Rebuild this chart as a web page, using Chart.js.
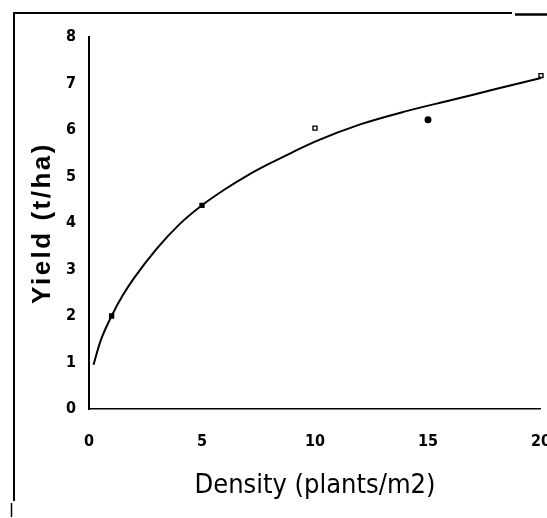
<!DOCTYPE html>
<html>
<head>
<meta charset="utf-8">
<script src="https://cdn.jsdelivr.net/npm/chart.js@4/dist/chart.umd.min.js"></script>
<style>
html,body{margin:0;padding:0;background:#fff;overflow:hidden;}
canvas{display:block;}
</style>
</head>
<body>
<canvas id="c" width="574" height="518"></canvas>
<script>
// Observed data points
const densityObs = [1, 5, 10, 15, 20];
const yieldObs = [2.0, 4.38, 6.04, 6.22, 7.17];
const obsStyles = ['rect', 'rect', 'rect', 'circle', 'rect'];
const obsFill = ['#000', '#000', '#fff', '#000', '#fff'];

// Fitted curve
const densityFit = [0.2, 0.5, 1, 1.5, 2, 3, 4, 5, 6, 7, 8, 9, 10, 12, 14, 16, 18, 20];
const yieldFit = [0.95, 1.45, 2.0, 2.45, 2.82, 3.45, 3.97, 4.38, 4.72, 5.02, 5.28, 5.52, 5.75, 6.12, 6.4, 6.64, 6.88, 7.12];

const xTicks = [0, 5, 10, 15, 20];
const yTicks = [0, 1, 2, 3, 4, 5, 6, 7, 8];
const xTitle = 'Density (plants/m2)';
const yTitle = 'Yield (t/ha)';

const tickFont = {family: "'Liberation Sans Narrow','DejaVu Sans Condensed',sans-serif", size: 16, weight: 'bold'};

const framePlugin = {
  id: 'frame',
  beforeDraw(chart) {
    const ctx = chart.ctx;
    ctx.save();
    ctx.strokeStyle = '#000';
    ctx.lineWidth = 2;
    ctx.beginPath();
    ctx.moveTo(14, 501); ctx.lineTo(14, 13); ctx.lineTo(512, 13);
    ctx.stroke();
    ctx.lineWidth = 2.5;
    ctx.beginPath();
    ctx.moveTo(515, 14.5); ctx.lineTo(547, 14.5);
    ctx.stroke();
    ctx.lineWidth = 1.5;
    ctx.beginPath();
    ctx.moveTo(11.5, 503); ctx.lineTo(11.5, 517);
    ctx.stroke();
    ctx.restore();
  }
};

const chart = new Chart(document.getElementById('c'), {
  type: 'scatter',
  data: {
    datasets: [
      {
        type: 'line',
        label: 'fit',
        data: densityFit.map((x, i) => ({x: x, y: yieldFit[i]})),
        borderColor: '#000',
        borderWidth: 2,
        pointRadius: 0,
        fill: false,
        clip: false,
        cubicInterpolationMode: 'monotone'
      },
      {
        label: 'observed',
        data: densityObs.map((x, i) => ({x: x, y: yieldObs[i]})),
        pointStyle: obsStyles,
        pointRadius: 2.8,
        pointBackgroundColor: obsFill,
        pointBorderColor: '#000',
        pointBorderWidth: 1.4,
        clip: false
      }
    ]
  },
  options: {
    responsive: false,
    animation: false,
    layout: {padding: {left: 0, top: 37, right: 25, bottom: 0}},
    plugins: {legend: {display: false}, tooltip: {enabled: false}},
    scales: {
      x: {
        type: 'linear',
        min: 0, max: 20,
        afterBuildTicks(s) { s.ticks = xTicks.map(v => ({value: v})); },
        afterFit(s) { s.height = 109; },
        grid: {display: false, drawTicks: false},
        border: {display: true, color: '#000', width: 1.5, dash: [24, 2, 3, 2]},
        ticks: {color: '#000', font: tickFont, padding: 23, maxRotation: 0},
        title: {
          display: true, text: xTitle, color: '#000',
          font: {family: "'Liberation Sans Narrow','DejaVu Sans Condensed',sans-serif", size: 27},
          padding: {top: 0, bottom: 16}
        }
      },
      y: {
        type: 'linear',
        min: 0, max: 8,
        afterBuildTicks(s) { s.ticks = yTicks.map(v => ({value: v})); },
        afterFit(s) { s.width = 89; },
        grid: {display: false, drawTicks: false},
        border: {display: true, color: '#000', width: 2},
        ticks: {color: '#000', font: tickFont, padding: 13},
        title: {
          display: true, text: yTitle, color: '#000',
          font: {family: "'Liberation Sans',Arial,sans-serif", size: 26, weight: 'bold'},
          padding: {top: 27, bottom: 0}
        }
      }
    }
  },
  plugins: [framePlugin]
});

// add letter spacing to the y-axis title only
const ys = chart.scales.y;
const origDrawTitle = ys.drawTitle;
ys.drawTitle = function () {
  this.ctx.save();
  this.ctx.letterSpacing = '2.5px';
  origDrawTitle.apply(this, arguments);
  this.ctx.restore();
};
chart.draw();
</script>
</body>
</html>
